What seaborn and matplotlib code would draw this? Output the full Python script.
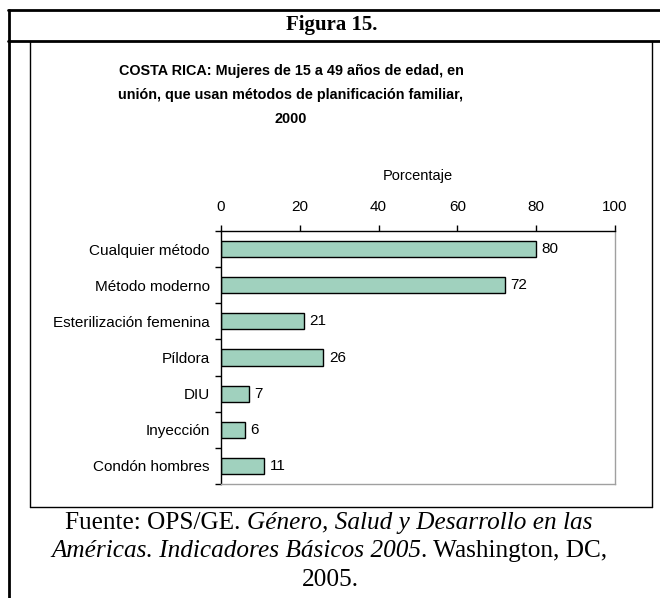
import matplotlib
matplotlib.use("Agg")
import matplotlib.pyplot as plt
from matplotlib.lines import Line2D
import seaborn as sns
import pandas as pd

categories = ["Cualquier método", "Método moderno", "Esterilización femenina",
              "Píldora", "DIU", "Inyección", "Condón hombres"]
values = [80, 72, 21, 26, 7, 6, 11]
x_ticks = [0, 20, 40, 60, 80, 100]

sns.set_theme(style="white")
plt.rcParams['font.family'] = ['Liberation Sans', 'DejaVu Sans']

W, H = 660, 598
fig = plt.figure(figsize=(W / 100, H / 100), dpi=100)

def fx(px):
    return px / W

def fy(py):
    return 1 - py / H

ax = fig.add_axes([fx(221), fy(484), fx(615) - fx(221), fy(231) - fy(484)])

df = pd.DataFrame({"cat": categories, "val": values})
sns.barplot(data=df, x="val", y="cat", orient="h", color="#a0d1be", saturation=1,
            edgecolor="black", linewidth=1.0, width=0.45, ax=ax)

ax.set_xlim(0, 100)
ax.set_ylim(len(categories) - 0.5, -0.5)
ax.xaxis.tick_top()
ax.xaxis.set_label_position("top")
ax.set_xticks(x_ticks)
ax.set_xticklabels([str(t) for t in x_ticks], fontsize=11, color="black")
ax.set_xlabel("Porcentaje", fontsize=10.5, labelpad=15, color="black")
ax.set_ylabel("")
ax.tick_params(axis="x", which="major", top=True, direction="out", length=4,
               width=1, color="black", pad=8)

ax.set_yticks(range(len(categories)))
ax.set_yticklabels(categories, fontsize=11, color="black")
ax.tick_params(axis="y", which="major", length=0, pad=8)
ax.set_yticks([i - 0.5 for i in range(len(categories) + 1)], minor=True)
ax.tick_params(axis="y", which="minor", left=True, direction="out", length=4,
               width=1, color="black")

for s in ["left", "top"]:
    ax.spines[s].set_color("black")
    ax.spines[s].set_linewidth(1.0)
for s in ["right", "bottom"]:
    ax.spines[s].set_color("#a0a0a0")
    ax.spines[s].set_linewidth(1.0)
ax.grid(False)

for c in ax.containers:
    ax.bar_label(c, padding=4, fontsize=11, color="black")

fig.text(fx(291), fy(95),
         "COSTA RICA: Mujeres de 15 a 49 años de edad, en\n"
         "unión, que usan métodos de planificación familiar,\n2000",
         ha="center", va="center", fontsize=10.4, fontweight="bold",
         linespacing=1.92, color="black")

SERIF = ["Liberation Serif", "DejaVu Serif"]
fig.text(fx(332), fy(25), "Figura 15.", ha="center", va="center",
         fontsize=15, fontweight="bold", family=SERIF, color="black")

# Source note with mixed roman / italic segments
renderer = fig.canvas.get_renderer()
SRC_SIZE = 18.2

def seg_width(s, style):
    def w(txt):
        t = fig.text(0, 0, txt, fontsize=SRC_SIZE, family=SERIF, style=style)
        ww = t.get_window_extent(renderer).width
        t.remove()
        return ww
    return w(s + "|") - w("|")

def mixed_line(segments, cx, cy):
    widths = [seg_width(s, st) for s, st in segments]
    total = sum(widths)
    x = cx - total / 2
    for (s, st), wd in zip(segments, widths):
        fig.text(fx(x), fy(cy), s, fontsize=SRC_SIZE, family=SERIF, style=st,
                 ha="left", va="center", color="black")
        x += wd

mixed_line([("Fuente: OPS/GE. ", "normal"),
            ("Género, Salud y Desarrollo en las", "italic")], 329, 523)
mixed_line([("Américas. Indicadores Básicos 2005", "italic"),
            (". Washington, DC,", "normal")], 329, 551)
mixed_line([("2005.", "normal")], 330, 580)

def line(x0, y0, x1, y1, lw=1.0, color="black"):
    fig.add_artist(Line2D([fx(x0), fx(x1)], [fy(y0), fy(y1)], lw=lw,
                          color=color, transform=fig.transFigure))

line(8, 10, 660, 10, lw=2)
line(8, 41, 660, 41, lw=2)
line(9, 10, 9, 598, lw=2)
line(30, 41, 30, 507, lw=1)
line(652, 41, 652, 507, lw=1)
line(30, 507, 652, 507, lw=1)

fig.savefig("out.png", dpi=100)
